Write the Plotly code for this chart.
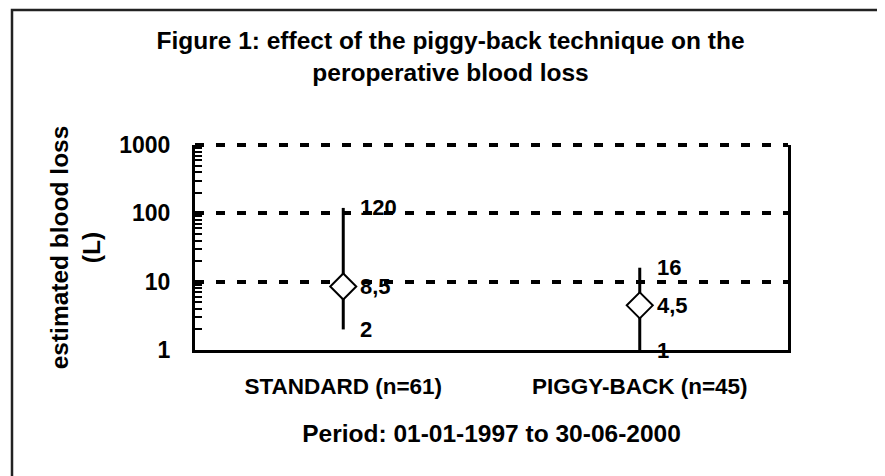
import numpy as np
import plotly.graph_objects as go

# 数据
categories = ["STANDARD (n=61)", "PIGGY-BACK (n=45)"]
median_loss = [8.5, 4.5]
min_loss = [2, 1]
max_loss = [120, 16]
y_ticks = [1, 10, 100, 1000]

FONT = "Liberation Sans, Arial, sans-serif"


def fmt(v):
    """逗号作小数点"""
    return f"{v:g}".replace(".", ",")


err_plus = [hi - m for hi, m in zip(max_loss, median_loss)]
err_minus = [m - lo for m, lo in zip(median_loss, min_loss)]

fig = go.Figure()
fig.add_trace(go.Scatter(
    x=categories,
    y=median_loss,
    mode="markers",
    marker=dict(symbol="diamond", size=20, color="white",
                line=dict(color="black", width=2)),
    error_y=dict(type="data", symmetric=False, array=err_plus,
                 arrayminus=err_minus, color="black", thickness=3, width=0),
    cliponaxis=False,
    showlegend=False,
))

# 数据标签
for cat, m, lo, hi in zip(categories, median_loss, min_loss, max_loss):
    for v in (hi, m, lo):
        fig.add_annotation(
            x=cat, y=np.log10(v), text=fmt(v), showarrow=False,
            xanchor="left", yanchor="middle", xshift=15,
            font=dict(family=FONT, size=22, color="black", weight="bold"),
        )

# 顶部 1000 处的虚线（plotly 在边缘不画网格线），用 paper 坐标避免被裁剪
fig.add_shape(type="line", xref="paper", yref="paper",
              x0=0, x1=1, y0=1, y1=1,
              line=dict(color="black", width=4, dash="9px,12px"), layer="below")

# 外框
fig.add_shape(type="rect", xref="paper", yref="paper",
              x0=-0.3086, x1=1.2, y0=-0.7, y1=1.6585,
              line=dict(color="#222222", width=2.5), layer="below")

fig.update_layout(
    width=885, height=476,
    margin=dict(l=187, r=105, t=137, b=134, autoexpand=False),
    paper_bgcolor="white", plot_bgcolor="white",
    font=dict(family=FONT, size=22, color="black", weight="bold"),
    title=dict(
        text="Figure 1: effect of the piggy-back technique on the<br>peroperative blood loss",
        x=0.5, xanchor="center", y=1 - 41 / 476, yanchor="middle",
        font=dict(family=FONT, size=24.5, color="black", weight="bold"),
    ),
    xaxis=dict(
        type="category", range=[-0.5, 1.5], automargin=False,
        showline=True, linecolor="black", linewidth=3,
        ticks="", showgrid=False, ticklabelstandoff=14,
        title=dict(text="Period: 01-01-1997 to 30-06-2000", standoff=27,
                   font=dict(family=FONT, size=24.5, color="black", weight="bold")),
        tickfont=dict(size=22.5),
    ),
    yaxis=dict(
        type="log", range=[0, 3], automargin=False,
        tickvals=y_ticks, ticktext=[str(t) for t in y_ticks],
        showline=True, mirror=True, linecolor="black", linewidth=3,
        ticks="inside", ticklen=8, tickwidth=4, tickcolor="black",
        ticklabelstandoff=17,
        showgrid=True, gridcolor="black", gridwidth=4, griddash="9px,12px",
        minor=dict(ticks="inside", ticklen=7, tickwidth=2, tickcolor="black",
                   dtick="D1", showgrid=False),
        tickfont=dict(size=23),
        title=dict(text="estimated blood loss<br>(L)", standoff=12,
                   font=dict(family=FONT, size=24.5, color="black", weight="bold")),
        zeroline=False,
    ),
)

fig.write_html("out.html")
